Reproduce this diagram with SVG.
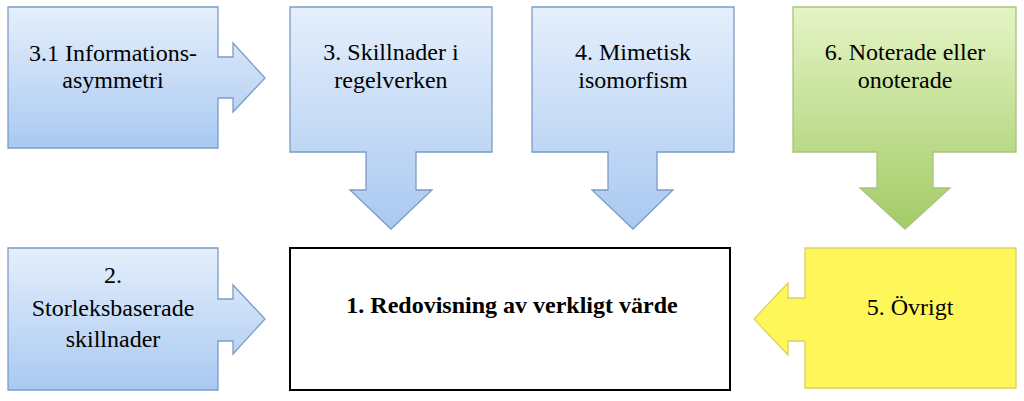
<svg xmlns="http://www.w3.org/2000/svg" width="1024" height="401" viewBox="0 0 1024 401">
  <defs>
    <linearGradient id="gBlue" x1="0" y1="0" x2="0" y2="1">
      <stop offset="0" stop-color="#e5effc"/>
      <stop offset="1" stop-color="#a9c9f1"/>
    </linearGradient>
    <linearGradient id="gGreen" x1="0" y1="0" x2="0" y2="1">
      <stop offset="0" stop-color="#e4f4c4"/>
      <stop offset="1" stop-color="#a3cb66"/>
    </linearGradient>
  </defs>
  <style>
    .blue { fill: url(#gBlue); stroke: #7b9cc6; stroke-width: 1.3; }
    .green { fill: url(#gGreen); stroke: #a7c47c; stroke-width: 1.3; }
    .yellow { fill: #fff75a; stroke: #d9d267; stroke-width: 1.3; }
    .main { fill: #ffffff; stroke: #000000; stroke-width: 2; }
    text { font-family: "Liberation Serif", "Times New Roman", "DejaVu Serif", serif; font-size: 24px; fill: #000; text-anchor: middle; }
    .bold { font-weight: bold; }
  </style>
  <rect width="1024" height="401" fill="#ffffff"/>
  <g id="connectors"></g>
  <g id="node-31">
    <path class="blue" d="M8,7 H218 V57 H233 V43 L265,78 L233,112 V98 H218 V148 H8 Z"/>
    <text x="113" y="61">3.1 Informations-</text>
    <text x="113" y="88">asymmetri</text>
  </g>
  <g id="node-3">
    <path class="blue" d="M290,7 H492 V152 H416 V190 H432 L391,229 L350,190 H366 V152 H290 Z"/>
    <text x="391" y="60">3. Skillnader i</text>
    <text x="391" y="88">regelverken</text>
  </g>
  <g id="node-4">
    <path class="blue" d="M532,7 H734 V152 H657 V190 H673 L633,229 L592,190 H608 V152 H532 Z"/>
    <text x="633" y="60">4. Mimetisk</text>
    <text x="633" y="88">isomorfism</text>
  </g>
  <g id="node-6">
    <path class="green" d="M793,7 H1016 V152 H933 V188 H950 L905,229 L860,188 H877 V152 H793 Z"/>
    <text x="905" y="60">6. Noterade eller</text>
    <text x="905" y="88">onoterade</text>
  </g>
  <g id="node-2">
    <path class="blue" d="M8,248 H218 V299 H233 V285 L265,319 L233,354 V341 H218 V390 H8 Z"/>
    <text x="113" y="283">2.</text>
    <text x="113" y="316">Storleksbaserade</text>
    <text x="113" y="347">skillnader</text>
  </g>
  <g id="node-1">
    <rect class="main" x="290" y="248" width="440" height="142"/>
    <text class="bold" x="512" y="313">1. Redovisning av verkligt värde</text>
  </g>
  <g id="node-5">
    <path class="yellow" d="M805,248 H1016 V388 H805 V341 H788 V355 L754,319 L788,283 V298 H805 Z"/>
    <text x="910" y="315">5. Övrigt</text>
  </g>
</svg>
